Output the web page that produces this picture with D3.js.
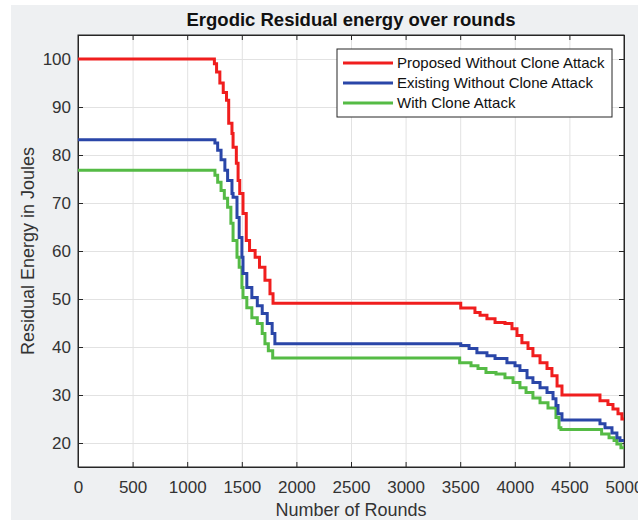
<!DOCTYPE html>
<html>
<head>
<meta charset="utf-8">
<script src="https://cdn.jsdelivr.net/npm/d3@7"></script>
<style>
  body { margin: 0; background: #fff; }
  text { font-family: "Liberation Sans", Arial, sans-serif; }
</style>
</head>
<body>
<div id="chart-area"></div>
<script>
// values
var seriesNames = ["Proposed Without Clone Attack", "Existing Without Clone Attack", "With Clone Attack"];

var roundsProposed = [0, 1233, 1249, 1269, 1299, 1330, 1360, 1380, 1410, 1420, 1450, 1466, 1481, 1511, 1541, 1571, 1622, 1662, 1712, 1758, 1786,
  3505, 3635, 3682, 3745, 3819, 3910, 3974, 4020, 4065, 4121, 4166, 4231, 4295, 4340, 4387, 4432, 4780, 4853, 4899, 4945, 4981, 5000];
var energyProposed = [100, 100, 99, 97.3, 95, 93, 91.4, 86.6, 84.5, 81.6, 78.3, 74.7, 72, 67.8, 62.2, 60.1, 58.7, 56.6, 53.9, 51.1, 49.1,
  48.1, 47.2, 46.6, 45.9, 45.1, 44.9, 43.8, 42.4, 40.9, 39.7, 38.2, 36.7, 35.5, 34, 31.9, 30, 28.8, 28, 27.1, 26.1, 25, 25];

var roundsExisting = [0, 1233, 1254, 1279, 1310, 1345, 1370, 1410, 1420, 1456, 1476, 1501, 1511, 1546, 1592, 1642, 1687, 1733, 1778, 1803,
  3505, 3581, 3653, 3745, 3819, 3928, 4002, 4047, 4112, 4166, 4231, 4295, 4350, 4377, 4396, 4432, 4780, 4826, 4890, 4935, 4963, 5000];
var energyExisting = [83.2, 83.2, 82.5, 81, 79, 76.8, 74.7, 72, 71.2, 67, 62.8, 58.7, 55.3, 52.4, 50.3, 48.6, 47, 44.9, 42.8, 40.7,
  40.3, 39.7, 38.8, 38.2, 37.6, 36.7, 36.1, 35.1, 33.6, 32.6, 31.5, 30.5, 29.2, 27.8, 26.1, 24.8, 24, 23.2, 22.1, 21.1, 20.5, 20.5];

var roundsClone = [0, 1233, 1254, 1279, 1310, 1340, 1370, 1400, 1420, 1456, 1476, 1501, 1511, 1546, 1592, 1642, 1687, 1712, 1743, 1783,
  3495, 3599, 3663, 3736, 3828, 3910, 3984, 4047, 4103, 4166, 4231, 4304, 4377, 4405, 4422, 4795, 4863, 4909, 4935, 4972, 5000];
var energyClone = [76.8, 76.8, 75.8, 74.3, 72.6, 71, 69.1, 65.8, 62.2, 58.7, 56.6, 52.4, 50.3, 48.2, 46.1, 44.9, 42.8, 40.7, 39.2, 37.7,
  36.7, 36.1, 35.5, 34.7, 34.4, 33.6, 32.6, 31.5, 30.5, 29.4, 28.4, 27.3, 25.3, 23.2, 22.8, 21.9, 21.1, 20.5, 19.8, 19, 19];

var xTicks = [0, 500, 1000, 1500, 2000, 2500, 3000, 3500, 4000, 4500, 5000];
var yTicks = [20, 30, 40, 50, 60, 70, 80, 90, 100];

var colors = ["#f01e1e", "#2a46a8", "#55bb45"];

var margin = {top: 35, right: 14, bottom: 53, left: 78};
var width = 638 - margin.left - margin.right;
var height = 520 - margin.top - margin.bottom;

var svg = d3.select("#chart-area").append("svg").attr("width", 638).attr("height", 520);
svg.append("rect").attr("x", 11).attr("y", 5).attr("width", 627).attr("height", 515).attr("fill", "#eef0f2");

var g = svg.append("g").attr("transform", "translate(" + margin.left + ", " + margin.top + ")");

var x = d3.scaleLinear().domain([0, 5000]).range([0, width]);
var y = d3.scaleLinear().domain([15, 105]).range([height, 0]);

g.append("rect").attr("width", width).attr("height", height).attr("fill", "#fff");

// grid
var gridX = g.append("g").attr("transform", "translate(0, " + height + ")")
  .call(d3.axisBottom(x).tickValues(xTicks).tickSize(-height).tickFormat(""));
var gridY = g.append("g").call(d3.axisLeft(y).tickValues(yTicks).tickSize(-width).tickFormat(""));
[gridX, gridY].forEach(function(a) {
  a.select(".domain").remove();
  a.selectAll("line").attr("stroke", "#e2e2e2").attr("stroke-width", 1);
});

svg.append("clipPath").attr("id", "plot-clip").append("rect")
  .attr("x", margin.left).attr("y", margin.top).attr("width", width).attr("height", height);

var series = [
  {rounds: roundsProposed, energy: energyProposed},
  {rounds: roundsExisting, energy: energyExisting},
  {rounds: roundsClone, energy: energyClone}
];

var line = d3.line().x(function(d) { return x(d[0]); }).y(function(d) { return y(d[1]); }).curve(d3.curveStepAfter);

// clip path is in svg coords, so wrap the translated group
var lineLayer = svg.append("g").attr("clip-path", "url(#plot-clip)")
  .append("g").attr("transform", "translate(" + margin.left + ", " + margin.top + ")");

// draw back to front so red stays on top
[2, 1, 0].forEach(function(i) {
  var pts = series[i].rounds.map(function(r, k) { return [r, series[i].energy[k]]; });
  lineLayer.append("path").attr("d", line(pts)).attr("fill", "none")
    .attr("stroke", colors[i]).attr("stroke-width", 3);
});

// axes, ticks point inward
var axisColor = "#262626";
var bottomAxis = g.append("g").attr("transform", "translate(0, " + height + ")")
  .call(d3.axisBottom(x).tickValues(xTicks).tickFormat(d3.format("d")).tickSizeInner(-5).tickSizeOuter(0).tickPadding(14));
var leftAxis = g.append("g")
  .call(d3.axisLeft(y).tickValues(yTicks).tickFormat(d3.format("d")).tickSizeInner(-5).tickSizeOuter(0).tickPadding(7));
var topAxis = g.append("g")
  .call(d3.axisTop(x).tickValues(xTicks).tickSizeInner(-5).tickSizeOuter(0).tickFormat(""));
var rightAxis = g.append("g").attr("transform", "translate(" + width + ", 0)")
  .call(d3.axisRight(y).tickValues(yTicks).tickSizeInner(-5).tickSizeOuter(0).tickFormat(""));
[bottomAxis, leftAxis, topAxis, rightAxis].forEach(function(a) {
  a.select(".domain").attr("stroke", axisColor);
  a.selectAll("line").attr("stroke", axisColor);
  a.selectAll("text").attr("font-size", "17px").attr("fill", "#333")
    .attr("font-family", "'Liberation Sans', Arial, sans-serif");
});

g.append("rect").attr("width", width).attr("height", height).attr("fill", "none").attr("stroke", axisColor);

// title and axis labels
svg.append("text").attr("x", margin.left + width / 2).attr("y", 26).attr("text-anchor", "middle")
  .attr("font-size", "18.5px").attr("font-weight", "bold").attr("fill", "#111").text("Ergodic Residual energy over rounds");

svg.append("text").attr("x", margin.left + width / 2).attr("y", 516).attr("text-anchor", "middle")
  .attr("font-size", "18px").attr("fill", "#333").text("Number of Rounds");

svg.append("text").attr("transform", "translate(34, " + (margin.top + height / 2) + ") rotate(-90)")
  .attr("text-anchor", "middle").attr("font-size", "18px").attr("fill", "#333").text("Residual Energy in Joules");

// legend
var legend = svg.append("g").attr("transform", "translate(337, 49)");
legend.append("rect").attr("width", 275).attr("height", 68).attr("fill", "#fff").attr("stroke", axisColor);
seriesNames.forEach(function(name, i) {
  var ly = 14 + i * 20;
  legend.append("line").attr("x1", 6).attr("x2", 56).attr("y1", ly).attr("y2", ly)
    .attr("stroke", colors[i]).attr("stroke-width", 3);
  legend.append("text").attr("x", 60).attr("y", ly).attr("dy", "0.35em")
    .attr("font-size", "15px").attr("fill", "#111").text(name);
});
</script>
</body>
</html>
